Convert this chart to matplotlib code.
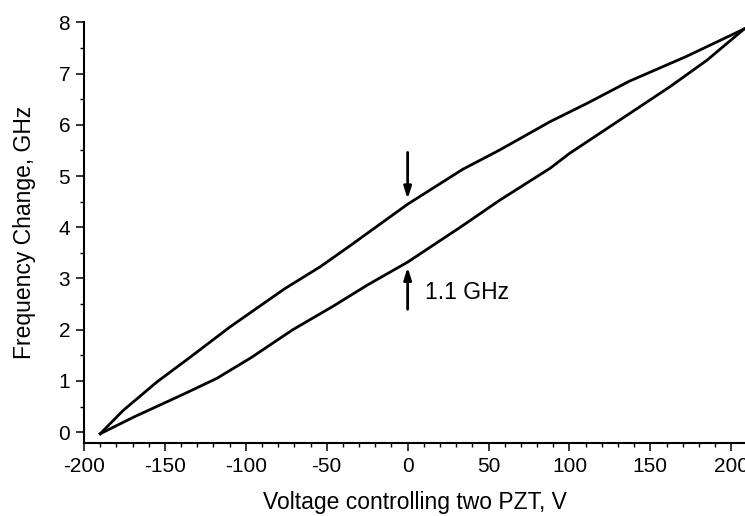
import matplotlib
matplotlib.use("Agg")
import matplotlib.pyplot as plt
from matplotlib.ticker import MultipleLocator

plt.rcParams['font.family'] = ['Liberation Sans', 'DejaVu Sans']
plt.rcParams['axes.unicode_minus'] = False

# Upper branch (voltage, frequency change)
upper_v = [-190, -176, -155, -135, -110, -76, -54, -36, 0, 34, 57, 88, 111, 137, 172, 208]
upper_f = [-0.03, 0.42, 0.98, 1.45, 2.05, 2.80, 3.23, 3.63, 4.45, 5.13, 5.51, 6.06, 6.42, 6.85, 7.33, 7.87]

# Lower branch
lower_v = [-190, -169, -138, -118, -97, -71, -46, -25, 0, 33, 57, 88, 100, 131, 162, 185, 208]
lower_f = [-0.03, 0.30, 0.75, 1.05, 1.45, 2.00, 2.46, 2.87, 3.32, 4.01, 4.53, 5.15, 5.44, 6.09, 6.74, 7.26, 7.87]

x_ticks = [-200, -150, -100, -50, 0, 50, 100, 150, 200]
y_ticks = [0, 1, 2, 3, 4, 5, 6, 7, 8]

# Annotation: gap marker at 0 V
arrow_v = 0
down_arrow = (5.46, 4.55)
up_arrow = (2.40, 3.22)
gap_label = "1.1 GHz"

fig = plt.figure(figsize=(7.45, 5.16), dpi=100)
ax = fig.add_axes([0.1128, 0.1415, 0.8872, 0.8153])

ax.plot(upper_v, upper_f, color='black', lw=2.0, clip_on=False, solid_joinstyle='round')
ax.plot(lower_v, lower_f, color='black', lw=2.0, clip_on=False, solid_joinstyle='round')

arrowprops = dict(arrowstyle='-|>,head_length=0.7,head_width=0.22', color='black', lw=2.0,
                  shrinkA=0, shrinkB=0)
ax.annotate('', xy=(arrow_v, down_arrow[1]), xytext=(arrow_v, down_arrow[0]), arrowprops=arrowprops)
ax.annotate('', xy=(arrow_v, up_arrow[1]), xytext=(arrow_v, up_arrow[0]), arrowprops=arrowprops)
ax.text(11, 2.72, gap_label, fontsize=16.5, va='center', ha='left')

ax.set_xlim(-200, 208.5)
ax.set_ylim(-0.21, 8)
ax.set_xticks(x_ticks)
ax.set_yticks(y_ticks)
ax.xaxis.set_minor_locator(MultipleLocator(10))
ax.yaxis.set_minor_locator(MultipleLocator(0.5))

for s in ['top', 'right']:
    ax.spines[s].set_visible(False)
for s in ['left', 'bottom']:
    ax.spines[s].set_linewidth(1.5)

ax.tick_params(which='major', direction='out', length=5.5, width=1.1, labelsize=15, pad=4.5)
ax.tick_params(which='minor', direction='out', length=3, width=1.0)

ax.set_xlabel('Voltage controlling two PZT, V', fontsize=16.5)
ax.set_ylabel('Frequency Change, GHz', fontsize=16.5)
ax.xaxis.set_label_coords(0.5, -0.115)
ax.yaxis.set_label_coords(-0.073, 0.5)

fig.savefig('out.png', dpi=100)
